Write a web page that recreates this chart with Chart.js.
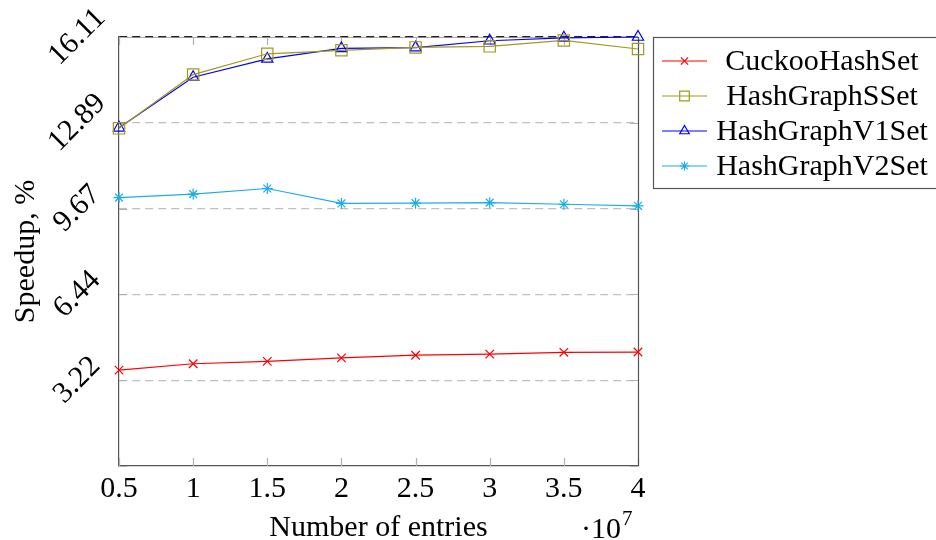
<!DOCTYPE html>
<html>
<head>
<meta charset="utf-8">
<script src="https://cdn.jsdelivr.net/npm/chart.js@4"></script>
<style>
  html, body { margin: 0; padding: 0; background: #fff; }
  #wrap { width: 936px; height: 540px; }
</style>
</head>
<body>
<div id="wrap"><canvas id="speedup"></canvas></div>
<script>
// number of entries, in units of 10^7
const entries = [0.5, 1, 1.5, 2, 2.5, 3, 3.5, 4];

// speedup per set implementation, %
const cuckooHashSet = [3.60, 3.84, 3.93, 4.06, 4.16, 4.20, 4.27, 4.28];
const hashGraphSSet = [12.68, 14.70, 15.48, 15.61, 15.72, 15.76, 15.98, 15.66];
const hashGraphV1Set = [12.70, 14.60, 15.29, 15.68, 15.71, 15.97, 16.08, 16.11];
const hashGraphV2Set = [10.08, 10.21, 10.42, 9.86, 9.87, 9.89, 9.83, 9.77];

const yTicks = [0, 3.222, 6.444, 9.666, 12.888, 16.11];
const yTickLabels = ['', '3.22', '6.44', '9.67', '12.89', '16.11'];

const serif = "'Liberation Serif', 'DejaVu Serif', serif";
const textSize = 30;

const series = [
  { label: 'CuckooHashSet', data: cuckooHashSet, color: '#ff0000', style: 'crossRot', radius: 6 },
  { label: 'HashGraphSSet', data: hashGraphSSet, color: '#a09a1c', style: 'rect', radius: 8 },
  { label: 'HashGraphV1Set', data: hashGraphV1Set, color: '#0000ff', style: 'triangle', radius: 6.5 },
  { label: 'HashGraphV2Set', data: hashGraphV2Set, color: '#1aaee8', style: 'star', radius: 5.5 },
];

const datasets = series.map((s) => ({
  label: s.label,
  data: s.data.map((v, i) => ({ x: entries[i], y: v })),
  borderColor: s.color,
  backgroundColor: 'rgba(0,0,0,0)',
  borderWidth: 1.2,
  pointStyle: s.style,
  pointRadius: s.radius,
  pointHoverRadius: s.radius,
  pointBorderColor: s.color,
  pointBackgroundColor: 'rgba(0,0,0,0)',
  pointBorderWidth: 1.2,
  tension: 0,
  clip: false,
}));

// frame, inner tick marks, boxed legend and the 10^7 multiplier
const decorations = {
  id: 'decorations',
  beforeDraw(chart) {
    const { ctx, chartArea: a } = chart;
    ctx.save();
    ctx.strokeStyle = '#aaaaaa';
    ctx.lineWidth = 1;
    ctx.beginPath();
    ctx.moveTo(a.left, a.top + 0.5);
    ctx.lineTo(a.right, a.top + 0.5);
    ctx.stroke();
    ctx.restore();
  },
  beforeDatasetsDraw(chart) {
    const { ctx, chartArea: a, scales } = chart;
    ctx.save();
    ctx.strokeStyle = '#b0b0b0';
    ctx.lineWidth = 1.2;
    const len = 8;
    scales.x.ticks.forEach((t) => {
      const px = Math.round(scales.x.getPixelForValue(t.value)) + 0.5;
      ctx.beginPath();
      ctx.moveTo(px, a.bottom); ctx.lineTo(px, a.bottom - len);
      ctx.moveTo(px, a.top); ctx.lineTo(px, a.top + len);
      ctx.stroke();
    });
    scales.y.ticks.forEach((t) => {
      const py = Math.round(scales.y.getPixelForValue(t.value)) + 0.5;
      ctx.beginPath();
      ctx.moveTo(a.left, py); ctx.lineTo(a.left + len, py);
      ctx.moveTo(a.right, py); ctx.lineTo(a.right - len, py);
      ctx.stroke();
    });
    // right border
    ctx.strokeStyle = '#555555';
    ctx.lineWidth = 1.2;
    ctx.beginPath();
    ctx.moveTo(Math.round(a.right) + 0.5, a.top);
    ctx.lineTo(Math.round(a.right) + 0.5, a.bottom);
    ctx.stroke();
    ctx.restore();
  },
  afterDraw(chart) {
    const { ctx } = chart;
    ctx.save();

    // legend box
    const bx = 653.5, by = 37.5, bw = 290, bh = 151;
    ctx.strokeStyle = '#555555';
    ctx.lineWidth = 1.2;
    ctx.strokeRect(bx, by, bw, bh);
    const rows = [61, 96, 131, 166];
    ctx.textAlign = 'center';
    ctx.textBaseline = 'middle';
    chart.data.datasets.forEach((ds, i) => {
      const y = rows[i];
      ctx.strokeStyle = ds.borderColor;
      ctx.fillStyle = 'rgba(0,0,0,0)';
      ctx.lineWidth = 1.2;
      ctx.beginPath();
      ctx.moveTo(662, y); ctx.lineTo(707, y);
      ctx.stroke();
      if (Chart.helpers && Chart.helpers.drawPoint) {
        Chart.helpers.drawPoint(ctx, {
          pointStyle: ds.pointStyle,
          radius: ds.pointRadius * 0.85,
          borderWidth: 1.2,
          rotation: 0,
        }, 684.5, y);
      }
      ctx.font = textSize + 'px ' + serif;
      ctx.fillStyle = '#000';
      ctx.fillText(ds.label, 822, y + 1);
    });

    // ·10^7 multiplier under the x axis
    ctx.fillStyle = '#000';
    ctx.textAlign = 'right';
    ctx.textBaseline = 'alphabetic';
    ctx.font = textSize + 'px ' + serif;
    ctx.fillText('\u00b710', 621, 538);
    ctx.textAlign = 'left';
    ctx.font = '21px ' + serif;
    ctx.fillText('7', 622, 525);
    ctx.restore();
  },
};

const ctx = document.getElementById('speedup').getContext('2d');
const chart = new Chart(ctx, {
  type: 'line',
  data: { datasets },
  options: {
    responsive: true,
    maintainAspectRatio: false,
    animation: false,
    layout: { padding: { top: 37, right: 298, left: 0, bottom: 0 } },
    plugins: {
      legend: { display: false },
      tooltip: { enabled: false },
    },
    scales: {
      x: {
        type: 'linear',
        min: 0.5,
        max: 4,
        afterBuildTicks: (scale) => {
          scale.ticks = entries.map((v) => ({ value: v }));
        },
        afterFit: (scale) => { scale.height = 74; },
        ticks: {
          color: '#000',
          font: { family: serif, size: textSize },
          padding: 5,
          maxRotation: 0,
          callback: (v) => String(v),
        },
        grid: { display: false, drawTicks: false },
        border: { display: true, color: '#555555', width: 1.2 },
        title: {
          display: true,
          text: 'Number of entries',
          color: '#000',
          font: { family: serif, size: textSize, lineHeight: 1 },
          padding: { top: 0, bottom: -3 },
        },
      },
      y: {
        type: 'linear',
        min: 0,
        max: 16.11,
        afterBuildTicks: (scale) => {
          scale.ticks = yTicks.map((v) => ({ value: v }));
        },
        afterFit: (scale) => { scale.width = 119; },
        ticks: {
          color: '#000',
          font: { family: serif, size: textSize },
          padding: 8,
          crossAlign: 'center',
          minRotation: 45,
          maxRotation: 45,
          callback: (v, i) => yTickLabels[i],
        },
        grid: {
          drawTicks: false,
          color: (c) => (c.tick && c.tick.value === 16.11 ? '#222222' : (c.tick && c.tick.value === 0 ? 'rgba(0,0,0,0)' : '#c0c0c0')),
          lineWidth: 1.2,
        },
        border: { display: true, color: '#555555', width: 1.2, dash: [8, 5] },
        title: {
          display: true,
          text: 'Speedup, %',
          color: '#000',
          font: { family: serif, size: textSize, lineHeight: 1.2 },
          padding: { top: 8, bottom: 0 },
        },
      },
    },
  },
  plugins: [decorations],
});
</script>
</body>
</html>
